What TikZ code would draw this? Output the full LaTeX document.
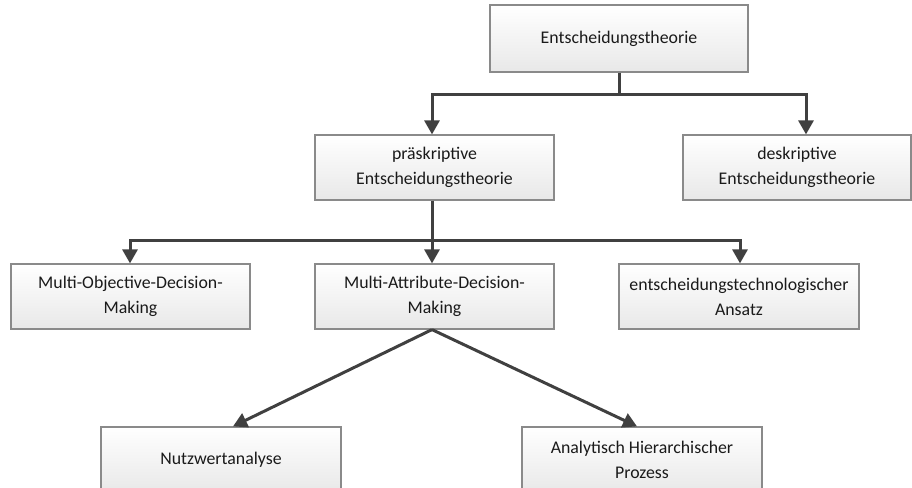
\documentclass[tikz,border=0pt]{standalone}
\usepackage{fontspec}
\setmainfont{Carlito}
\usetikzlibrary{arrows.meta,shadows}
\definecolor{boxline}{HTML}{8A8A8A}
\definecolor{conn}{HTML}{404040}
\definecolor{txt}{HTML}{1A1A1A}
\tikzset{
  box/.style={rectangle, draw=boxline, line width=1.2bp,
    top color=white, bottom color=black!9,
    drop shadow={shadow xshift=1bp, shadow yshift=-1bp, fill=black, opacity=.3},
    minimum height=65bp, inner sep=2bp, align=center, text=txt,
    font=\fontsize{17.8bp}{25bp}\selectfont},
  conline/.style={draw=conn, line width=3bp, line join=miter},
  arr/.style={conline, -{Triangle[length=14bp,width=15bp]}}
}
\begin{document}
\begin{tikzpicture}[x=1bp,y=-1bp]
\useasboundingbox (0,0) rectangle (912,488);

% top level
\node[box, minimum width=258bp, minimum height=67bp] (root) at (619,38.5) {Entscheidungstheorie};

% second level
\node[box, minimum width=239bp] (pre) at (434.5,167.5) {präskriptive\\Entscheidungstheorie};
\node[box, minimum width=228bp] (des) at (797,167.5) {deskriptive\\Entscheidungstheorie};

% third level
\node[box, minimum width=239bp] (mod) at (130.5,296.5) {Multi-Objective-Decision-\\Making};
\node[box, minimum width=239bp] (mad) at (434.5,296.5) {Multi-Attribute-Decision-\\Making};
\node[box, minimum width=240bp] (tec) at (739,296.5) {entscheidungstechnologischer\\Ansatz};

% fourth level
\node[box, minimum width=240bp, minimum height=66bp] (nwa) at (221,460) {Nutzwertanalyse};
\node[box, minimum width=240bp, minimum height=66bp] (ahp) at (642,460) {Analytisch Hierarchischer\\Prozess};

% branching points
\coordinate (j1) at (619,95);
\coordinate (j2) at (432,241);

% connectors
\draw[conline] (root.south) -- (j1);
\draw[arr] (j1) -| ([xshift=-2.5bp]pre.north);
\draw[arr] (j1) -| ([xshift=9bp]des.north);

\draw[arr] ([xshift=-2.5bp]pre.south) -- ([xshift=-2.5bp]mad.north);
\draw[arr] (j2) -| ([xshift=-0.5bp]mod.north);
\draw[arr] (j2) -| ([xshift=1bp]tec.north);

\draw[arr] ([xshift=-2.5bp]mad.south) -- ([xshift=12bp]nwa.north);
\draw[arr] ([xshift=-2.5bp]mad.south) -- ([xshift=-5bp]ahp.north);
\end{tikzpicture}
\end{document}
